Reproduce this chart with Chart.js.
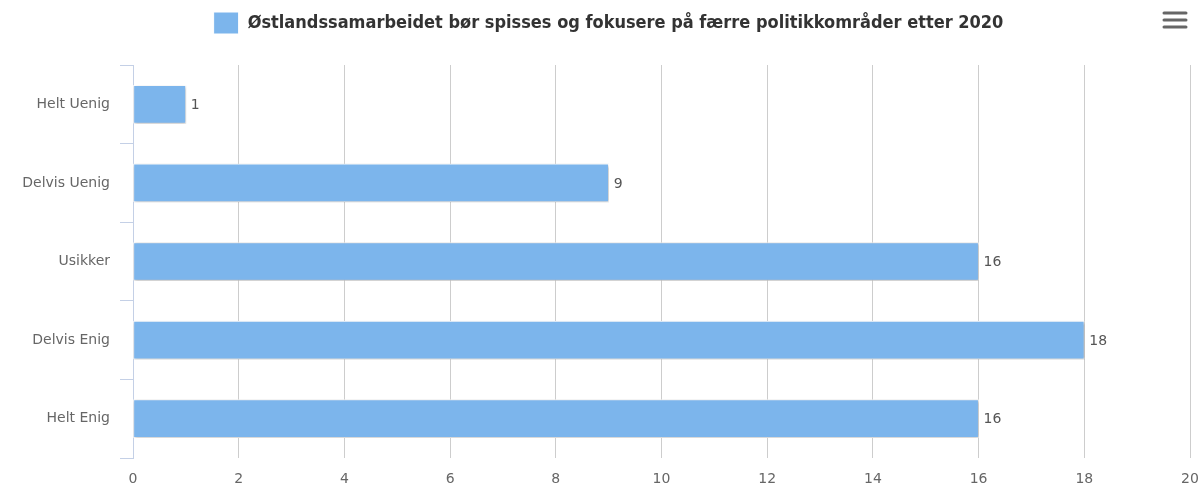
<!DOCTYPE html>
<html>
<head>
<meta charset="utf-8">
<script src="https://cdn.jsdelivr.net/npm/chart.js@4.4.1/dist/chart.umd.min.js"></script>
<style>
  html, body { margin: 0; padding: 0; background: #fff; }
  #wrap { width: 1203px; height: 488px; position: relative; }
</style>
</head>
<body>
<div id="wrap"><canvas id="grafica"></canvas></div>
<script>
// Datos
const categorias = ['Helt Uenig', 'Delvis Uenig', 'Usikker', 'Delvis Enig', 'Helt Enig'];
const valores = [1, 9, 16, 18, 16];
const serieNombre = 'Østlandssamarbeidet bør spisses og fokusere på færre politikkområder etter 2020';
const ejeMin = 0;
const ejeMax = 20;
const ejePaso = 2;

const azul = '#7cb5ec';
const colorEje = '#c4d0e6';

// Sombra de las barras
const sombraBarras = {
    id: 'sombraBarras',
    beforeDatasetsDraw(chart) {
        const ctx = chart.ctx;
        ctx.save();
        ctx.shadowColor = 'rgba(0,0,0,0.3)';
        ctx.shadowOffsetX = 1;
        ctx.shadowOffsetY = 1;
        ctx.shadowBlur = 3;
    },
    afterDatasetsDraw(chart) {
        chart.ctx.restore();
    }
};

// Etiquetas de valor al final de cada barra
const etiquetas = {
    id: 'etiquetas',
    afterDatasetsDraw(chart) {
        const ctx = chart.ctx;
        const meta = chart.getDatasetMeta(0);
        ctx.save();
        ctx.font = '14px "DejaVu Sans", sans-serif';
        ctx.fillStyle = '#555';
        ctx.textAlign = 'left';
        ctx.textBaseline = 'middle';
        meta.data.forEach((bar, i) => {
            ctx.fillText(String(valores[i]), bar.x + 5, bar.y + 1);
        });
        ctx.restore();
    }
};

// Icono de menú
const menu = {
    id: 'menu',
    afterDraw(chart) {
        const ctx = chart.ctx;
        ctx.save();
        ctx.strokeStyle = '#666';
        ctx.lineWidth = 3;
        ctx.lineCap = 'round';
        [13, 20, 27].forEach(y => {
            ctx.beginPath();
            ctx.moveTo(1164, y);
            ctx.lineTo(1186, y);
            ctx.stroke();
        });
        ctx.restore();
    }
};

// Altura fija de la leyenda y pequeño desplazamiento
const ajusteLeyenda = {
    id: 'ajusteLeyenda',
    afterInit(chart) {
        const fit = chart.legend.fit;
        chart.legend.fit = function () {
            fit.call(this);
            this.height = 65;
        };
    },
    afterLayout(chart) {
        chart.legend.left += 7;
        chart.legend.right += 7;
    }
};

function setupChart() {
    const ctx = document.getElementById('grafica').getContext('2d');
    new Chart(ctx, {
        type: 'bar',
        data: {
            labels: categorias,
            datasets: [{
                label: serieNombre,
                data: valores,
                backgroundColor: azul,
                borderColor: '#ffffff',
                borderWidth: 1,
                borderSkipped: false,
                barThickness: 38
            }]
        },
        options: {
            indexAxis: 'y',
            responsive: true,
            maintainAspectRatio: false,
            animation: false,
            layout: { padding: { left: 0, right: 0, top: 0, bottom: 0 } },
            plugins: {
                legend: {
                    display: true,
                    position: 'top',
                    labels: {
                        boxWidth: 25,
                        boxHeight: 22,
                        padding: 12,
                        color: '#333',
                        font: { family: '"DejaVu Sans Condensed", "DejaVu Sans", sans-serif', size: 18, weight: 'bold' }
                    }
                },
                tooltip: { enabled: false }
            },
            scales: {
                x: {
                    min: ejeMin,
                    max: ejeMax,
                    ticks: {
                        stepSize: ejePaso,
                        color: '#666',
                        padding: 13,
                        font: { family: '"DejaVu Sans", sans-serif', size: 14 }
                    },
                    grid: {
                        color: (c) => (c.tick && c.tick.value === 0) ? colorEje : '#cdcdcd',
                        drawTicks: false
                    },
                    border: { display: false },
                    afterFit(s) {
                        s.height = 30;
                        s.paddingRight = 13;
                    }
                },
                y: {
                    ticks: {
                        color: '#666',
                        padding: 10,
                        font: { family: '"DejaVu Sans", sans-serif', size: 14 }
                    },
                    grid: {
                        offset: true,
                        drawOnChartArea: false,
                        color: colorEje,
                        tickLength: 13
                    },
                    border: { display: true, color: colorEje, width: 1 },
                    afterFit(s) { s.width = 133; }
                }
            }
        },
        plugins: [ajusteLeyenda, sombraBarras, etiquetas, menu]
    });
}

setupChart();
</script>
</body>
</html>
